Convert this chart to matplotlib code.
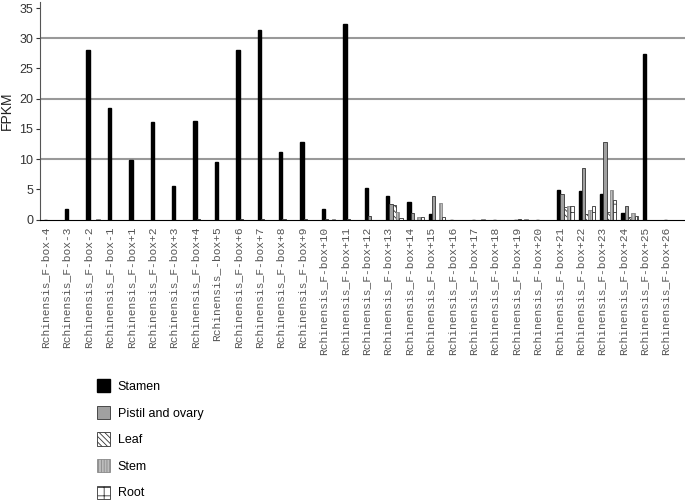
import matplotlib
matplotlib.use("Agg")
import matplotlib.pyplot as plt
import numpy as np

genes = ["Rchinensis_F-box-4", "Rchinensis_F-box-3", "Rchinensis_F-box-2", "Rchinensis_F-box-1",
         "Rchinensis_F-box+1", "Rchinensis_F-box+2", "Rchinensis_F-box+3", "Rchinensis_F-box+4",
         "Rchinensis_-box+5", "Rchinensis_F-box+6", "Rchinensis_F-box+7", "Rchinensis_F-box+8",
         "Rchinensis_F-box+9", "Rchinensis_F-box+10", "Rchinensis_F-box+11", "Rchinensis_F-box+12",
         "Rchinensis_F-box+13", "Rchinensis_F-box+14", "Rchinensis_F-box+15", "Rchinensis_F-box+16",
         "Rchinensis_F-box+17", "Rchinensis_F-box+18", "Rchinensis_F-box+19", "Rchinensis_F-box+20",
         "Rchinensis_F-box+21", "Rchinensis_F-box+22", "Rchinensis_F-box+23", "Rchinensis_F-box+24",
         "Rchinensis_F-box+25", "Rchinensis_F-box+26"]

stamen = [0, 1.7, 28.1, 18.5, 9.8, 16.2, 5.5, 16.3, 9.6, 28.1, 31.3, 11.2, 12.9, 1.7, 32.3,
          5.2, 3.9, 2.9, 0.9, 0, 0, 0, 0, 0, 4.9, 4.8, 4.2, 1.1, 27.4, 0]
pistil = [0, 0, 0, 0, 0, 0, 0, 0.15, 0, 0.1, 0.1, 0.05, 0.05, 0.05, 0.1,
          0.55, 2.5, 1.0, 3.9, 0, 0, 0, 0.05, 0, 4.3, 8.6, 12.8, 2.3, 0, 0]
leaf = [0, 0, 0, 0, 0, 0, 0, 0, 0, 0, 0, 0, 0, 0, 0,
        0, 2.4, 0, 0, 0, 0, 0, 0, 0, 2.1, 0.9, 1.3, 0.45, 0, 0]
stem = [0, 0, 0.1, 0, 0, 0, 0, 0, 0, 0, 0, 0, 0, 0.05, 0,
        0, 1.2, 0.4, 2.8, 0, 0.05, 0, 0.05, 0, 2.2, 1.6, 4.9, 1.0, 0, 0]
root = [0, 0, 0, 0, 0, 0, 0, 0, 0, 0, 0, 0, 0, 0, 0,
        0, 0.3, 0.45, 0.4, 0, 0, 0, 0, 0, 2.3, 2.3, 3.3, 0.6, 0, 0]

tissues = ["Stamen", "Pistil and ovary", "Leaf", "Stem", "Root"]
gridlines = [10, 20, 30]

plt.rcParams["hatch.linewidth"] = 0.6
fig = plt.figure(figsize=(6.85, 5), dpi=100)
ax = fig.add_axes([40 / 685, 0.561, 645 / 685, 0.435])

x = np.arange(len(genes))
w = 0.155
styles = [
    dict(color="black", edgecolor="black"),
    dict(color="#a0a0a0", edgecolor="#333333", linewidth=0.6),
    dict(color="white", edgecolor="#333333", hatch="\\\\\\\\\\\\", linewidth=0.6),
    dict(color="#bdbdbd", edgecolor="#888888", hatch="||||||", linewidth=0.6),
    dict(color="white", edgecolor="#333333", hatch="++", linewidth=0.6),
]
for k, (vals, st) in enumerate(zip([stamen, pistil, leaf, stem, root], styles)):
    ax.bar(x + k * w, vals, w, label=tissues[k], zorder=3, **st)

for g in gridlines:
    ax.axhline(g, color="#999999", lw=1.5, zorder=1)

ax.set_xlim(-0.25, 29.9)
ax.set_ylim(0, 36)
ax.set_yticks(range(0, 36, 5))
ax.set_xticks(x)
ax.set_xticklabels(genes, rotation=90, family="Liberation Mono", fontsize=8.1, color="#555555")
ax.tick_params(axis="x", length=0, pad=5)
ax.tick_params(axis="y", length=3, labelsize=9, colors="#333333", pad=2)
for lab in ax.get_yticklabels():
    lab.set_family("Liberation Sans")
ax.set_ylabel("FPKM", family="Liberation Sans", fontsize=10, color="#222222", labelpad=4)
ax.spines["top"].set_visible(False)
ax.spines["right"].set_visible(False)
ax.spines["left"].set_color("#555555")
ax.spines["bottom"].set_color("black")
ax.spines["bottom"].set_zorder(4)

fig.legend(loc="upper left", bbox_to_anchor=(86 / 685, 1 - 368 / 500), frameon=False,
           prop={"family": "Liberation Sans", "size": 9}, handlelength=1.05, handleheight=1.25,
           handletextpad=0.6, labelspacing=1.02)

fig.savefig("out.png", dpi=100)
